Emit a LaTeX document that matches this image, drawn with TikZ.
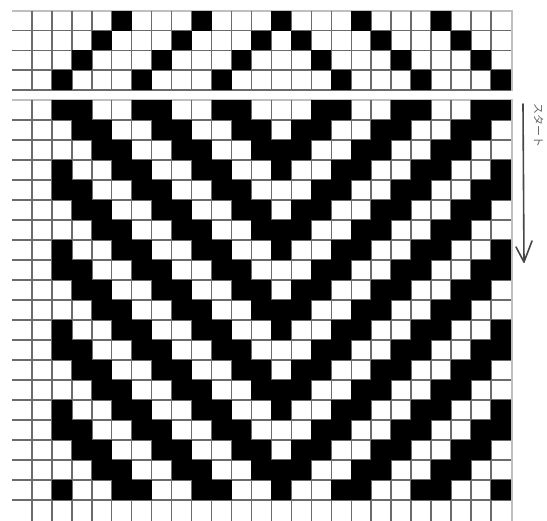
\documentclass[tikz,border=0pt]{standalone}
\usepackage{fontspec}
\newfontfamily\jpfont{Noto Sans CJK JP}
\begin{document}
\begin{tikzpicture}[x=1pt,y=-1pt,
  gridline/.style={draw=black!58,line width=1.5pt},
  edgeline/.style={draw=black!25,line width=2pt},
  cellfill/.style={fill=black},
  arrowline/.style={draw=black!72,line width=1.6pt,line cap=round,line join=round},
  labeltext/.style={font=\jpfont\fontsize{11}{11}\selectfont,text=black!60,inner sep=0pt}]
\useasboundingbox (0,0) rectangle (547,521);
\fill[white] (0,0) rectangle (547,521);
% ---- threading grid (top) ----
\foreach \j in {1,...,4} {
  \draw[gridline] (12,{11+19.75*\j}) -- (511,{11+19.75*\j});
}
\draw[edgeline] (12,11) -- (512,11);
\foreach \k in {0,...,23} {
  \draw[gridline] ({31.9+19.96*\k},11) -- ({31.9+19.96*\k},90);
}
\draw[edgeline] (511.5,10) -- (511.5,91);
\foreach \c in {2,...,24} {
  \pgfmathtruncatemacro\t{mod(abs(\c-13),4)}
  \fill[cellfill] ({31.9+19.96*(\c-1)},{11+19.75*\t}) rectangle ({31.9+19.96*\c},{11+19.75*(\t+1)});
}
% ---- drawdown grid (bottom) ----
\foreach \j in {1,...,20} {
  \draw[gridline] (12,{100+20*\j}) -- (511,{100+20*\j});
}
\draw[edgeline] (12,100) -- (512,100);
\foreach \k in {0,...,23} {
  \draw[gridline] ({31.9+19.96*\k},100) -- ({31.9+19.96*\k},521);
}
\draw[edgeline] (511.5,99) -- (511.5,521);
\foreach \r in {0,...,19} {
  \foreach \c in {2,...,24} {
    \pgfmathtruncatemacro\v{mod(mod(abs(\c-13),4)+mod(\r,4),4)}
    \ifnum\v>1
      \fill[cellfill] ({31.9+19.96*(\c-1)},{100+20*\r}) rectangle ({31.9+19.96*\c},{100+20*(\r+1)});
    \fi
  }
}
% ---- start arrow and label ----
\coordinate (arrowtop) at (523,104);
\coordinate (arrowtip) at (524,262);
\coordinate (armleft) at (516,247);
\coordinate (armright) at (532,241);
\draw[arrowline] (arrowtop) -- (arrowtip);
\draw[arrowline] (armleft) -- (arrowtip) -- (armright);
\node[labeltext,rotate=-90,anchor=west] (startlabel) at (538.5,103) {スタート};
\end{tikzpicture}
\end{document}
